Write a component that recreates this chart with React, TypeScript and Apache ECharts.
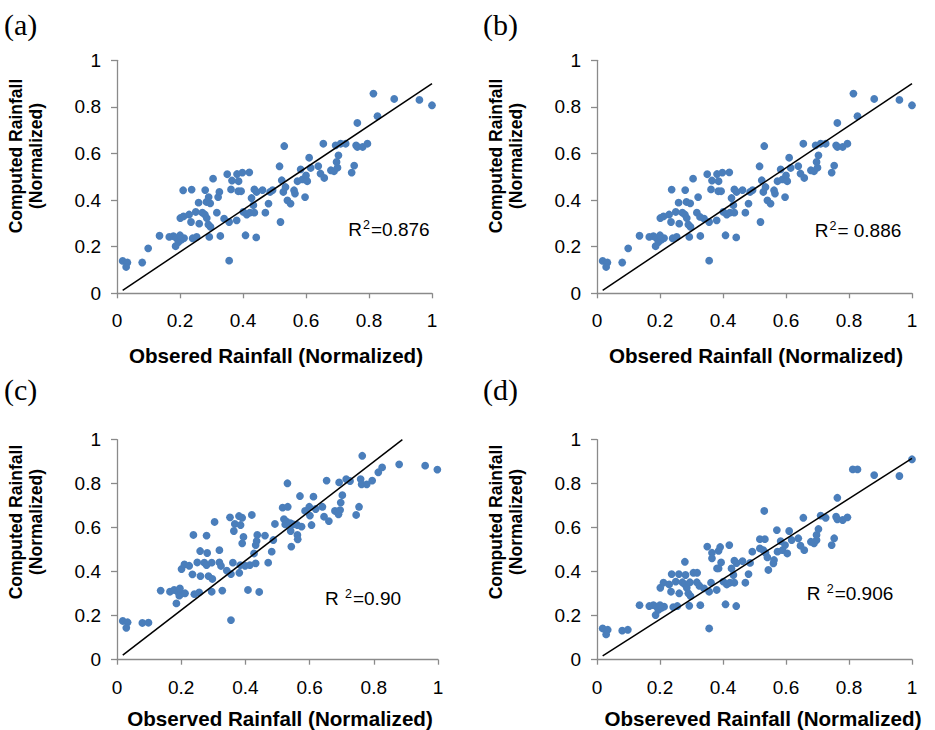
import React, { useEffect, useRef } from "react";
import * as echarts from "echarts";

// ---- data ----
const pointsA: number[][] = [
  [0.018,0.139],[0.033,0.132],[0.029,0.113],[0.080,0.132],[0.099,0.193],[0.135,0.247],[0.166,0.242],[0.179,0.245],[0.189,0.237],[0.195,0.220],[0.186,0.202],[0.205,0.230],[0.213,0.237],[0.200,0.249],[0.240,0.236],[0.253,0.242],[0.293,0.242],[0.328,0.246],[0.356,0.140],[0.408,0.249],[0.442,0.240],
  [0.201,0.323],[0.211,0.330],[0.229,0.338],[0.235,0.306],[0.250,0.349],[0.261,0.299],[0.271,0.346],[0.279,0.338],[0.285,0.323],[0.290,0.295],[0.297,0.285],[0.317,0.346],[0.340,0.320],[0.356,0.306],[0.380,0.313],
  [0.259,0.389],[0.284,0.392],[0.296,0.386],[0.291,0.413],[0.321,0.413],[0.325,0.435],[0.210,0.442],[0.237,0.445],[0.280,0.443],[0.305,0.492],[0.350,0.511],[0.365,0.484],[0.362,0.446],[0.381,0.512],[0.398,0.518],[0.420,0.519],[0.386,0.481],[0.385,0.438],[0.394,0.438],
  [0.401,0.349],[0.412,0.338],[0.422,0.346],[0.436,0.346],[0.471,0.346],[0.433,0.378],[0.427,0.409],[0.436,0.446],[0.443,0.435],[0.462,0.443],[0.481,0.385],[0.486,0.435],[0.494,0.443],[0.516,0.545],[0.523,0.485],[0.519,0.306],
  [0.531,0.632],[0.528,0.435],[0.535,0.456],[0.541,0.399],[0.551,0.385],[0.562,0.442],[0.565,0.428],[0.573,0.481],[0.583,0.532],[0.589,0.489],[0.597,0.413],[0.600,0.506],[0.604,0.481],[0.610,0.582],[0.615,0.538],[0.639,0.546],[0.646,0.514],[0.658,0.495],[0.655,0.642],[0.679,0.528],[0.689,0.524],[0.694,0.635],[0.700,0.539],[0.697,0.564],[0.703,0.592],[0.710,0.642],[0.726,0.642],[0.745,0.518],[0.753,0.548],[0.759,0.635],[0.763,0.628],[0.780,0.628],[0.795,0.642],[0.763,0.731],[0.814,0.857],[0.827,0.760],[0.880,0.834],[0.960,0.830],[1.0,0.807],
];

const pointsB: number[][] = [
  [0.018,0.139],[0.033,0.132],[0.029,0.113],[0.080,0.132],[0.099,0.193],[0.135,0.247],[0.166,0.242],[0.179,0.245],[0.189,0.237],[0.195,0.220],[0.186,0.202],[0.205,0.230],[0.213,0.237],[0.200,0.249],[0.240,0.236],[0.253,0.242],[0.293,0.242],[0.328,0.246],[0.356,0.140],[0.408,0.249],[0.442,0.240],
  [0.201,0.323],[0.211,0.330],[0.229,0.338],[0.235,0.306],[0.250,0.349],[0.261,0.299],[0.271,0.346],[0.279,0.338],[0.285,0.323],[0.290,0.295],[0.297,0.285],[0.317,0.346],[0.327,0.328],[0.340,0.320],[0.356,0.306],[0.380,0.313],
  [0.259,0.389],[0.284,0.392],[0.296,0.386],[0.321,0.413],[0.237,0.445],[0.280,0.443],[0.305,0.492],[0.350,0.511],[0.365,0.484],[0.362,0.446],[0.381,0.512],[0.398,0.518],[0.420,0.519],[0.386,0.481],[0.385,0.438],[0.394,0.438],
  [0.401,0.349],[0.412,0.338],[0.422,0.346],[0.436,0.346],[0.471,0.346],[0.433,0.378],[0.427,0.409],[0.436,0.446],[0.443,0.435],[0.462,0.443],[0.481,0.385],[0.486,0.435],[0.494,0.443],[0.516,0.545],[0.523,0.485],[0.519,0.306],
  [0.531,0.632],[0.528,0.435],[0.535,0.456],[0.541,0.399],[0.551,0.385],[0.562,0.442],[0.565,0.428],[0.573,0.481],[0.583,0.532],[0.589,0.489],[0.597,0.413],[0.600,0.506],[0.604,0.481],[0.610,0.582],[0.615,0.538],[0.639,0.546],[0.646,0.514],[0.658,0.495],[0.655,0.642],[0.679,0.528],[0.689,0.524],[0.694,0.635],[0.700,0.539],[0.697,0.564],[0.703,0.592],[0.710,0.642],[0.726,0.642],[0.745,0.518],[0.753,0.548],[0.759,0.635],[0.763,0.628],[0.780,0.628],[0.795,0.642],[0.763,0.731],[0.814,0.857],[0.827,0.760],[0.880,0.834],[0.960,0.830],[1.0,0.807],
];

const pointsC: number[][] = [
  [0.018,0.176],[0.033,0.170],[0.029,0.145],[0.079,0.167],[0.098,0.168],[0.136,0.314],[0.165,0.309],[0.178,0.317],[0.189,0.309],[0.194,0.291],[0.185,0.256],[0.201,0.302],[0.212,0.302],[0.196,0.324],[0.241,0.298],[0.256,0.306],[0.295,0.309],[0.328,0.314],[0.355,0.180],[0.408,0.317],[0.443,0.308],
  [0.201,0.412],[0.210,0.433],[0.225,0.427],[0.235,0.388],[0.250,0.442],[0.260,0.380],[0.272,0.441],[0.279,0.430],[0.285,0.380],[0.297,0.367],[0.295,0.441],[0.319,0.442],[0.324,0.426],[0.342,0.405],[0.355,0.389],[0.361,0.441],[0.381,0.395],
  [0.259,0.494],[0.281,0.485],[0.319,0.498],[0.238,0.567],[0.279,0.564],[0.304,0.626],[0.352,0.647],[0.367,0.617],[0.364,0.585],[0.380,0.653],[0.390,0.645],[0.385,0.612],[0.420,0.658],[0.394,0.558],[0.390,0.529],[0.384,0.430],[0.399,0.427],[0.414,0.430],[0.432,0.438],[0.471,0.441],[0.427,0.483],[0.432,0.521],[0.437,0.567],[0.435,0.539],[0.461,0.564],[0.482,0.491],[0.487,0.544],[0.492,0.617],
  [0.531,0.802],[0.516,0.691],[0.532,0.695],[0.520,0.639],[0.529,0.627],[0.524,0.615],[0.541,0.620],[0.541,0.585],[0.562,0.567],[0.563,0.547],[0.543,0.514],[0.550,0.615],[0.562,0.612],[0.575,0.605],[0.570,0.744],[0.586,0.676],[0.599,0.695],[0.601,0.655],[0.606,0.612],[0.612,0.741],[0.619,0.685],[0.640,0.695],[0.645,0.650],[0.660,0.630],[0.653,0.814],[0.679,0.676],[0.690,0.661],[0.695,0.680],[0.697,0.714],[0.702,0.748],[0.692,0.806],[0.714,0.821],[0.726,0.812],[0.745,0.658],[0.754,0.695],[0.759,0.821],[0.762,0.797],[0.778,0.797],[0.795,0.814],[0.764,0.927],[0.814,0.852],[0.826,0.874],[0.879,0.888],[0.960,0.882],[0.998,0.864],
];

const pointsD: number[][] = [
  [0.018,0.142],[0.034,0.136],[0.029,0.115],[0.080,0.132],[0.098,0.136],[0.135,0.248],[0.166,0.244],[0.179,0.248],[0.189,0.241],[0.195,0.226],[0.186,0.203],[0.205,0.236],[0.213,0.241],[0.200,0.248],[0.242,0.239],[0.255,0.244],[0.293,0.245],[0.328,0.248],[0.356,0.142],[0.408,0.252],[0.442,0.244],
  [0.201,0.327],[0.211,0.350],[0.229,0.342],[0.235,0.309],[0.250,0.355],[0.261,0.302],[0.271,0.352],[0.279,0.342],[0.285,0.327],[0.290,0.302],[0.297,0.289],[0.295,0.352],[0.317,0.352],[0.325,0.336],[0.340,0.324],[0.356,0.309],[0.380,0.317],[0.362,0.350],
  [0.237,0.389],[0.260,0.389],[0.281,0.385],[0.306,0.395],[0.318,0.395],[0.279,0.445],[0.350,0.514],[0.365,0.486],[0.365,0.461],[0.391,0.512],[0.386,0.495],[0.420,0.521],[0.394,0.442],[0.381,0.415],[0.386,0.415],
  [0.401,0.355],[0.412,0.342],[0.422,0.350],[0.436,0.350],[0.471,0.350],[0.433,0.385],[0.427,0.415],[0.436,0.450],[0.443,0.439],[0.462,0.448],[0.481,0.389],[0.486,0.440],[0.493,0.491],
  [0.517,0.506],[0.517,0.548],[0.533,0.548],[0.531,0.676],[0.528,0.498],[0.535,0.486],[0.541,0.465],[0.544,0.408],[0.560,0.438],[0.562,0.453],[0.571,0.589],[0.573,0.491],[0.583,0.539],[0.589,0.498],[0.597,0.521],[0.604,0.483],[0.610,0.585],[0.618,0.544],[0.639,0.552],[0.646,0.518],[0.658,0.498],[0.655,0.645],[0.679,0.536],[0.689,0.529],[0.697,0.544],[0.697,0.567],[0.703,0.594],[0.710,0.655],[0.726,0.645],[0.745,0.521],[0.753,0.552],[0.759,0.650],[0.763,0.638],[0.780,0.635],[0.795,0.647],[0.763,0.736],[0.812,0.865],[0.827,0.865],[0.880,0.839],[0.960,0.835],[1.0,0.911],
];

const trendA: number[][] = [[0.018, 0.013], [1.0, 0.90]];
const trendB: number[][] = [[0.018, 0.013], [1.0, 0.90]];
const trendC: number[][] = [[0.018, 0.021], [0.889, 1.0]];
const trendD: number[][] = [[0.018, 0.017], [1.0, 0.915]];

const panelLabels = ["(a)", "(b)", "(c)", "(d)"];
const xTitles = [
  "Obsered Rainfall (Normalized)",
  "Obsered Rainfall (Normalized)",
  "Observed Rainfall (Normalized)",
  "Obsereved Rainfall (Normalized)",
];
const yTitle = "Computed Rainfall\n(Normalized)";
// R² annotations: [before sup, sup, after sup]
const r2Texts = [
  ["R", "2", "=0.876"],
  ["R", "2", "= 0.886"],
  ["R ", "2", "=0.90"],
  ["R ", "2", "=0.906"],
];
const axisMin = 0;
const axisMax = 1;
const axisStep = 0.2;

// ---- layout (pixels) ----
const grids = [
  { left: 117, top: 60.3, width: 315, height: 233 },
  { left: 597, top: 60.3, width: 315, height: 233 },
  { left: 117, top: 439.7, width: 321, height: 220 },
  { left: 597, top: 439.7, width: 315, height: 220 },
];
const labelPos = [[4, 24], [483, 24], [4, 389], [483, 389]];
const yTitlePos = [[26, 156], [506, 156], [26, 522], [506, 522]];
const xTitlePos = [[276, 355], [756, 355], [280, 718], [763, 718]];
const r2Pos = [[389, 228], [858, 229], [363, 597], [850, 592]];

const FONT = "'Liberation Sans', Arial, Helvetica, sans-serif";
const AXIS_COLOR = "#8a8a8a";
const DOT_COLOR = "#4a7ebb";

export default function App() {
  const ref = useRef<HTMLDivElement>(null);

  useEffect(() => {
    if (!ref.current) return;
    const chart = echarts.init(ref.current, undefined, { renderer: "svg" });
    const points = [pointsA, pointsB, pointsC, pointsD];
    const trends = [trendA, trendB, trendC, trendD];

    const axisCommon = {
      type: "value",
      min: axisMin,
      max: axisMax,
      interval: axisStep,
      splitLine: { show: false },
      axisLine: { show: true, lineStyle: { color: AXIS_COLOR, width: 1.3 } },
      axisTick: { show: true, inside: false, lineStyle: { color: AXIS_COLOR, width: 1.3 } },
    };

    const xAxis = grids.map((_, i) => ({
      ...axisCommon,
      gridIndex: i,
      axisTick: { ...axisCommon.axisTick, length: 5 },
      axisLabel: { color: "#000", fontSize: 19, fontFamily: FONT, margin: 18 },
    }));
    const yAxis = grids.map((_, i) => ({
      ...axisCommon,
      gridIndex: i,
      axisTick: { ...axisCommon.axisTick, length: 6 },
      axisLabel: { color: "#000", fontSize: 19, fontFamily: FONT, margin: 16 },
    }));

    const series: any[] = [];
    points.forEach((pts, i) => {
      series.push({
        type: "scatter",
        xAxisIndex: i,
        yAxisIndex: i,
        data: pts,
        symbol: "circle",
        symbolSize: 7.8,
        itemStyle: { color: DOT_COLOR, opacity: 1 },
        z: 2,
      });
      series.push({
        type: "line",
        xAxisIndex: i,
        yAxisIndex: i,
        data: trends[i],
        symbol: "none",
        lineStyle: { color: "#000", width: 1.5 },
        z: 3,
      });
    });

    const graphic: any[] = [];
    panelLabels.forEach((t, i) => {
      graphic.push({
        type: "text",
        x: labelPos[i][0],
        y: labelPos[i][1],
        style: {
          text: t,
          fontSize: 30,
          fontFamily: "'Liberation Serif', 'Times New Roman', serif",
          fill: "#000",
          align: "left",
          verticalAlign: "middle",
        },
      });
      graphic.push({
        type: "text",
        x: yTitlePos[i][0],
        y: yTitlePos[i][1],
        rotation: Math.PI / 2,
        style: {
          text: yTitle,
          fontSize: 17.5,
          fontWeight: "bold",
          fontFamily: FONT,
          lineHeight: 20,
          fill: "#000",
          align: "center",
          verticalAlign: "middle",
        },
      });
      graphic.push({
        type: "text",
        x: xTitlePos[i][0],
        y: xTitlePos[i][1],
        style: {
          text: xTitles[i],
          fontSize: 20.6,
          fontWeight: "bold",
          fontFamily: FONT,
          fill: "#000",
          align: "center",
          verticalAlign: "middle",
        },
      });
      const r = r2Texts[i];
      graphic.push({
        type: "text",
        x: r2Pos[i][0],
        y: r2Pos[i][1],
        style: {
          text: `{m|${r[0]}}{s|${r[1]}}{m|${r[2]}}`,
          fontFamily: FONT,
          fill: "#000",
          align: "center",
          verticalAlign: "middle",
          rich: {
            m: { fontSize: 19, fontFamily: FONT, fill: "#000", lineHeight: 22, verticalAlign: "bottom" },
            s: { fontSize: 12.5, fontFamily: FONT, fill: "#000", lineHeight: 22, verticalAlign: "top", padding: [1, 1, 0, 1] },
          },
        },
      });
    });

    chart.setOption({
      animation: false,
      backgroundColor: "#fff",
      grid: grids.map((g) => ({ ...g, containLabel: false, outerBoundsMode: "none" })),
      xAxis,
      yAxis,
      series,
      graphic,
    } as any);

    return () => chart.dispose();
  }, []);

  return (
    <div
      ref={ref}
      style={{ position: "absolute", left: 0, top: 0, width: 935, height: 730 }}
    />
  );
}
